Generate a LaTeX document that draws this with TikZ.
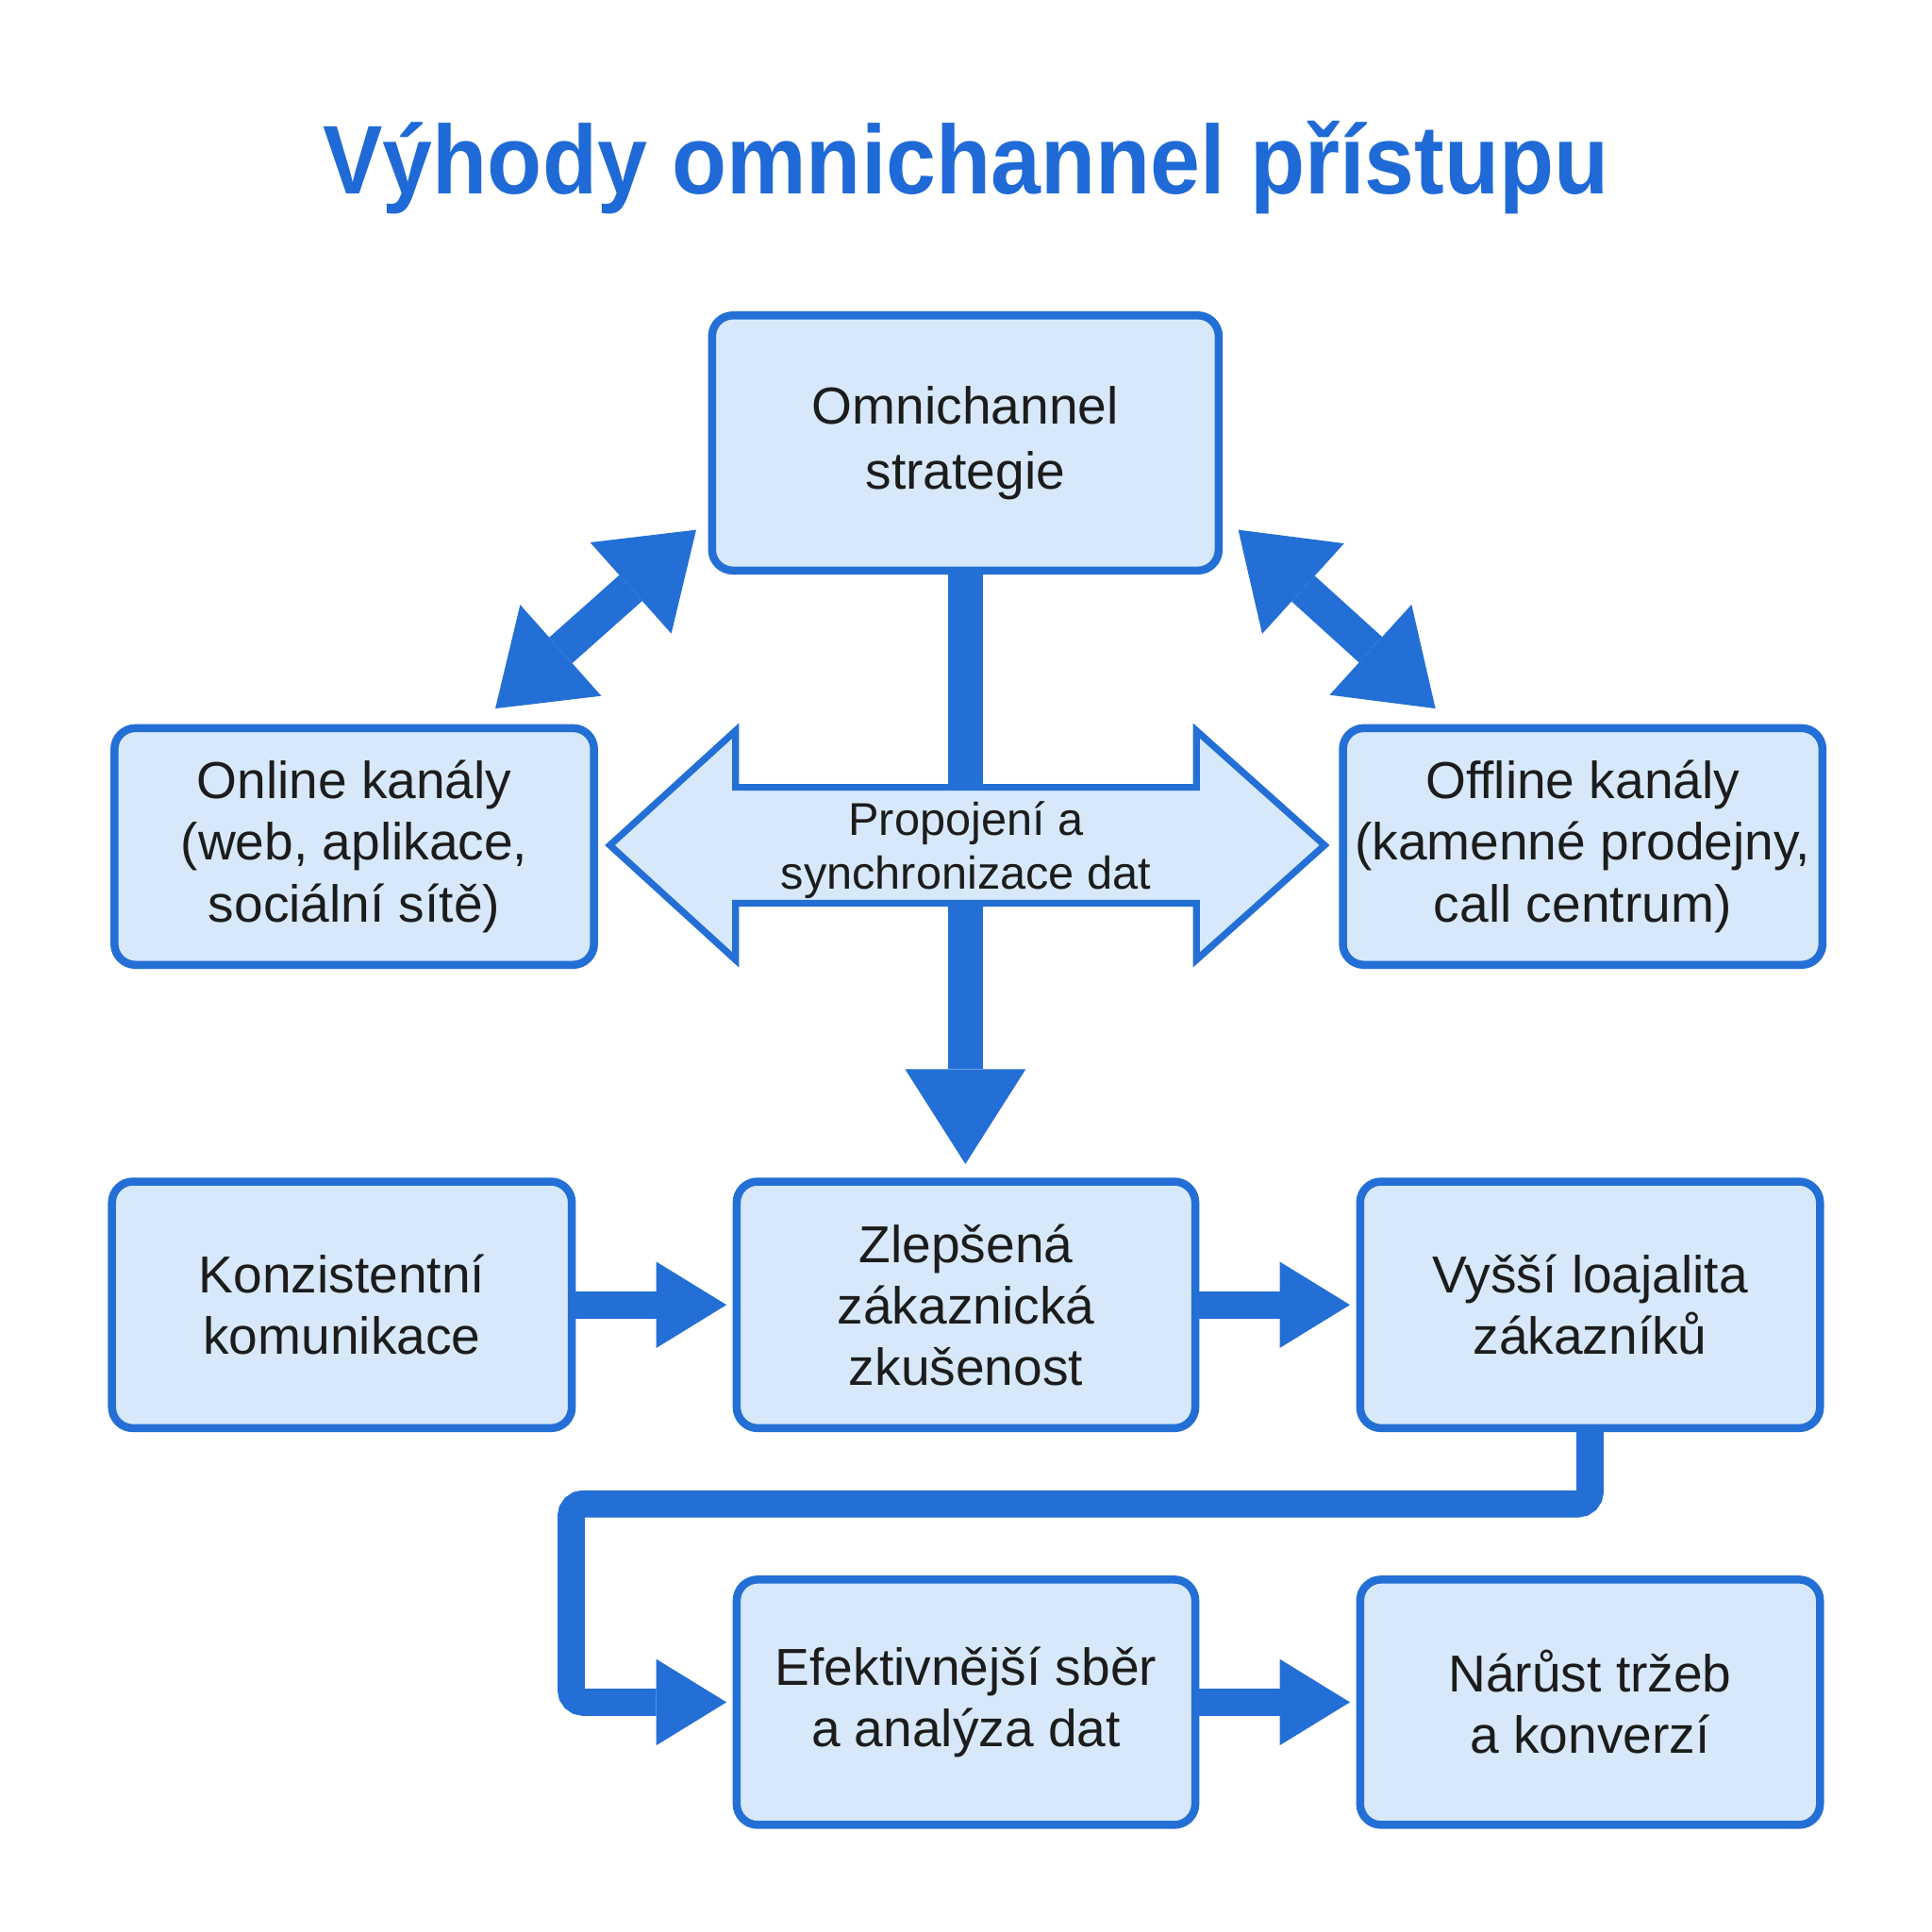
\documentclass[tikz,border=0pt]{standalone}
\usepackage{fontspec}
\setmainfont{Liberation Sans}
\newfontfamily\titlefont[FakeStretch=0.92]{Liberation Sans Bold}
\usetikzlibrary{arrows.meta,calc}
\definecolor{cblue}{HTML}{236FD6}
\definecolor{ctitle}{HTML}{1F6AD6}
\definecolor{cfill}{HTML}{D6E8F9}
\definecolor{ctext}{HTML}{1C1C1C}
\begin{document}
\begin{tikzpicture}[x=0.01cm,y=-0.01cm,
  box/.style={draw=cblue, line width=0.65mm, fill=cfill, rounded corners=1.7mm,
    align=center, text=ctext, font=\fontsize{12}{14.2}\selectfont, inner sep=0pt},
  flow/.style={draw=cblue, line width=2.2mm,
    -{Triangle[length=5.7mm,width=7mm,line width=0pt]}, shorten >=0.5mm},
  dbl/.style={draw=cblue, line width=2.8mm,
    {Triangle[length=7.1mm,width=9.9mm,line width=0pt]}-{Triangle[length=7.1mm,width=9.9mm,line width=0pt]}},
  down/.style={draw=cblue, line width=2.8mm,
    -{Triangle[length=7.7mm,width=9.8mm,line width=0pt]}, shorten >=1.1mm}
]
\useasboundingbox (0,0) rectangle (1568,1568);
\fill[white] (0,0) rectangle (1568,1568);

% title
\node[text=ctitle, font=\titlefont\fontsize{22.5}{27}\selectfont, anchor=base, inner sep=0pt]
  (title) at (784,157) {Výhody omnichannel přístupu};

% boxes
\node[box, minimum width=4.11cm, minimum height=2.07cm, font=\fontsize{12}{15}\selectfont] (omni) at (783.5,359.5) {Omnichannel\\strategie};
\node[box, minimum width=3.89cm, minimum height=1.92cm] (online) at (287.5,687) {Online kanály\\(web, aplikace,\\sociální sítě)};
\node[box, minimum width=3.89cm, minimum height=1.92cm] (offline) at (1284.5,687) {Offline kanály\\(kamenné prodejny,\\call centrum)};
\node[box, minimum width=3.73cm, minimum height=2.0cm] (konz) at (277.5,1059) {Konzistentní\\komunikace};
\node[box, minimum width=3.72cm, minimum height=2.0cm] (zlep) at (784,1059) {Zlepšená\\zákaznická\\zkušenost};
\node[box, minimum width=3.73cm, minimum height=2.0cm] (vyssi) at (1290.5,1059) {Vyšší loajalita\\zákazníků};
\node[box, minimum width=3.72cm, minimum height=1.99cm] (efekt) at (784,1381.5) {Efektivnější sběr\\a analýza dat};
\node[box, minimum width=3.73cm, minimum height=1.99cm] (narust) at (1290.5,1381.5) {Nárůst tržeb\\a konverzí};

% main vertical arrow
\draw[down] (omni.south) -- (omni.south |- zlep.north);

% central double arrow
\draw[draw=cblue, fill=cfill, line width=0.55mm, line join=miter]
  (495,686) -- (597,593) -- (597,639) -- (971,639) -- (971,593) -- (1075,686)
  -- (971,779) -- (971,733) -- (597,733) -- (597,779) -- cycle;
\node[align=center, text=ctext, font=\fontsize{10.6}{12.5}\selectfont, inner sep=0pt]
  (sync) at (784,690) {Propojení a\\synchronizace dat};

% diagonal double arrows
\coordinate (ulA) at (402,575);
\coordinate (ulB) at (565,430);
\coordinate (urA) at (1005,430);
\coordinate (urB) at (1165,575);
\draw[dbl] (ulA) -- (ulB);
\draw[dbl] (urA) -- (urB);

% horizontal flows
\draw[flow] (konz.east) -- (zlep.west);
\draw[flow] (zlep.east) -- (vyssi.west);
\draw[flow] (efekt.east) -- (narust.west);

% loop
\coordinate (loopc) at (463.5,1220.5);
\draw[flow, rounded corners=1mm] (vyssi.south) |- (loopc) |- (efekt.west);
\end{tikzpicture}
\end{document}
